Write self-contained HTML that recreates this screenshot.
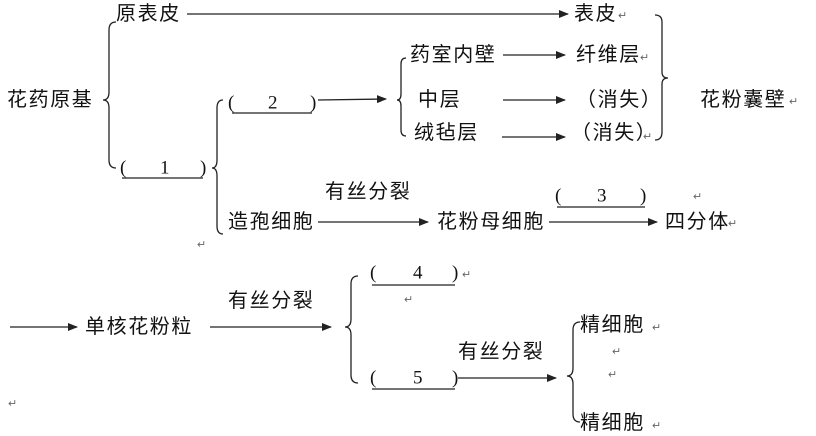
<!DOCTYPE html>
<html><head><meta charset="utf-8"><style>
html,body{margin:0;padding:0;background:#fff;}
svg{display:block;}
text{font-family:"Liberation Sans","Noto Sans CJK SC",sans-serif;font-size:20px;fill:#111;dominant-baseline:central;letter-spacing:1.6px;}
.n{font-family:"Liberation Serif",serif;font-size:19px;letter-spacing:0;}
.r{font-size:11px;fill:#666;letter-spacing:0;}
</style></head><body>
<svg width="816" height="436" viewBox="0 0 816 436" xmlns="http://www.w3.org/2000/svg">
<defs><marker id="a" markerWidth="10" markerHeight="8" refX="9" refY="4" orient="auto" markerUnits="userSpaceOnUse"><path d="M0,0 L10,4 L0,8 Z" fill="#222"/></marker></defs>
<g stroke="#222" stroke-width="1.3" fill="none">
<line x1="187" y1="14" x2="568" y2="14" marker-end="url(#a)"/>
<line x1="318" y1="100" x2="386" y2="99" marker-end="url(#a)"/>
<line x1="503" y1="55" x2="565" y2="55" marker-end="url(#a)"/>
<line x1="503" y1="100" x2="565" y2="100" marker-end="url(#a)"/>
<line x1="502" y1="137" x2="565" y2="137" marker-end="url(#a)"/>
<line x1="318" y1="222" x2="428" y2="222" marker-end="url(#a)"/>
<line x1="549" y1="222" x2="657" y2="222" marker-end="url(#a)"/>
<line x1="10" y1="327" x2="77" y2="327" marker-end="url(#a)"/>
<line x1="210" y1="327" x2="331" y2="327" marker-end="url(#a)"/>
<line x1="458" y1="378" x2="556" y2="378" marker-end="url(#a)"/>
<line x1="122" y1="178" x2="203" y2="178"/>
<line x1="232" y1="113" x2="312" y2="113"/>
<line x1="557" y1="207" x2="645" y2="207"/>
<line x1="372" y1="285" x2="455" y2="285"/>
<line x1="372" y1="389" x2="455" y2="389"/>
<path d="M116,22 Q109,22 109,30 L109,92 Q109,100 103,100 Q109,100 109,108 L109,160 Q109,168 116,168"/>
<path d="M223,100 Q217,100 217,108 L217,160 Q217,168 212,168 Q217,168 217,176 L217,226 Q217,234 223,234"/>
<path d="M406,58 Q401,58 401,64 L401,94 Q401,100 397,100 Q401,100 401,106 L401,130 Q401,136 406,136"/>
<path d="M655,15 Q662,15 662,22 L662,72 Q662,78 668,78 Q662,78 662,84 L662,132 Q662,140 655,140"/>
<path d="M358,276 Q351,276 351,284 L351,319 Q351,327 345,327 Q351,327 351,335 L351,375 Q351,383 358,383"/>
<path d="M580,322 Q573,322 573,330 L573,368 Q573,376 567,376 Q573,376 573,384 L573,414 Q573,422 580,422"/>
</g>
<text x="116" y="14">原表皮</text>
<text x="574" y="14">表皮</text><text class="r" x="618" y="16">↵</text>
<text x="7" y="100">花药原基</text>
<text class="n" x="120" y="168">(</text><text class="n" x="160" y="168">1</text><text class="n" x="200" y="168">)</text>
<text class="n" x="228" y="103">(</text><text class="n" x="268" y="103">2</text><text class="n" x="310" y="103">)</text>
<text x="410" y="55">药室内壁</text>
<text x="576" y="55">纤维层</text><text class="r" x="640" y="58">↵</text>
<text x="418" y="100">中层</text>
<text x="576" y="100">（消失）</text>
<text x="414" y="133">绒毡层</text>
<text x="571" y="133">（消失）</text><text class="r" x="643" y="137">↵</text>
<text x="700" y="100">花粉囊壁</text><text class="r" x="789" y="102">↵</text>
<text x="325" y="192">有丝分裂</text>
<text x="228" y="222">造孢细胞</text>
<text x="437" y="222">花粉母细胞</text>
<text class="n" x="555" y="196">(</text><text class="n" x="597" y="196">3</text><text class="n" x="640" y="196">)</text>
<text class="r" x="693" y="197">↵</text>
<text x="665" y="222">四分体</text><text class="r" x="728" y="224">↵</text>
<text class="r" x="197" y="245">↵</text>
<text x="85" y="327">单核花粉粒</text>
<text x="228" y="301">有丝分裂</text>
<text class="n" x="370" y="273">(</text><text class="n" x="413" y="273">4</text><text class="n" x="452" y="273">)</text><text class="r" x="462" y="275">↵</text>
<text class="r" x="404" y="300">↵</text>
<text x="458" y="352">有丝分裂</text>
<text class="n" x="370" y="378">(</text><text class="n" x="413" y="378">5</text><text class="n" x="452" y="378">)</text>
<text x="580" y="325">精细胞</text><text class="r" x="652" y="328">↵</text>
<text class="r" x="612" y="352">↵</text>
<text class="r" x="608" y="375">↵</text>
<text x="580" y="423">精细胞</text><text class="r" x="652" y="426">↵</text>
<text class="r" x="8" y="404">↵</text>
</svg>
</body></html>
